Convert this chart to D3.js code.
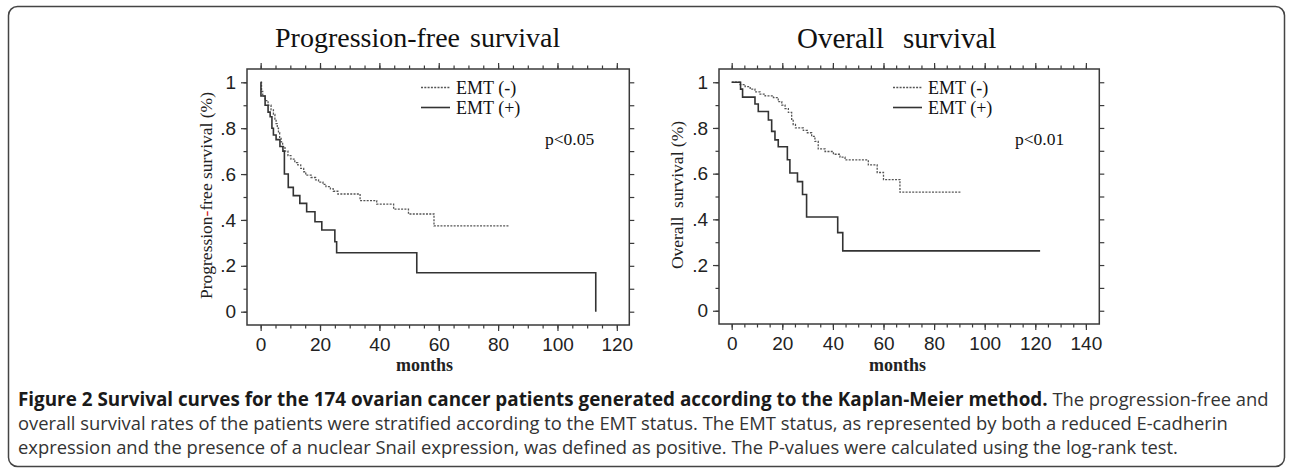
<!DOCTYPE html>
<html><head><meta charset="utf-8">
<script src="https://cdn.jsdelivr.net/npm/d3@7"></script>
<style>
html,body{margin:0;padding:0;background:#fff;}
svg{display:block;}
</style></head>
<body><svg id="c" width="1290" height="469"></svg>
<script>
// ---- data ----
const xTicksPFS = [0,20,40,60,80,100,120];
const xTicksOS = [0,20,40,60,80,100,120,140];
const yTicks = [0,0.2,0.4,0.6,0.8,1];
const yTickLabels = ["0",".2",".4",".6",".8","1"];
const seriesNames = ["EMT (-)","EMT (+)"];

const pfsNegTime = [0,0.3,0.7,1.5,2.5,3.5,4.3,4.8,5.2,5.6,6.0,6.4,6.9,7.4,8.2,9.2,10.2,11.5,12.5,13.5,14.5,15.2,17,18.5,19.5,21,22,23.5,24.5,26,33.5,39.1,44.8,49.8,58.4,83.5];
const pfsNegSurv = [1,0.96,0.94,0.92,0.90,0.88,0.86,0.84,0.82,0.80,0.78,0.76,0.74,0.72,0.70,0.68,0.665,0.65,0.64,0.625,0.61,0.595,0.585,0.575,0.565,0.555,0.545,0.535,0.525,0.513,0.484,0.469,0.447,0.426,0.374,0.374];
const pfsPosTime = [0,0.1,1.5,2.5,3.2,3.8,4.3,5.2,6.5,7.5,8.0,9.3,11,13.2,15.5,18.3,20.6,25,25.6,52.6,112.9];
const pfsPosSurv = [1,0.94,0.90,0.87,0.85,0.80,0.77,0.75,0.72,0.70,0.60,0.542,0.506,0.472,0.436,0.392,0.356,0.305,0.257,0.17,0.0];

const osNegTime = [0,3.3,5.3,7.3,9.2,11.2,13.2,16.5,18.4,19.8,21.1,22.4,23.7,24.3,25.2,28.3,29.9,31.6,32.9,34.2,36.9,40.2,42.8,44.8,54,57.5,60,66.5,90.5];
const osNegSurv = [1,0.99,0.981,0.97,0.958,0.948,0.94,0.933,0.915,0.9,0.885,0.868,0.838,0.815,0.80,0.789,0.779,0.763,0.741,0.708,0.697,0.685,0.672,0.66,0.638,0.605,0.574,0.519,0.519];
const osPosTime = [0,3.5,4.3,9.2,10.5,14.5,15.8,17.1,18.4,22.0,23,26,28,29.6,41.9,43.9,121.9];
const osPosSurv = [1,0.97,0.935,0.905,0.872,0.835,0.785,0.748,0.718,0.661,0.603,0.565,0.509,0.41,0.342,0.262,0.262];

const svg = d3.select("#c");
const INK = "#3a3a3a";
const SERIF = "'Liberation Serif','Times New Roman',serif";
const NARROW = "'Liberation Sans Narrow','Arial Narrow','Liberation Sans',sans-serif";

// outer border
svg.append("rect").attr("x",8.5).attr("y",6.5).attr("width",1276).attr("height",460)
  .attr("rx",9).attr("fill","none").attr("stroke","#444").attr("stroke-width",1.5);

function panel(cfg){
  const x = d3.scaleLinear().domain(cfg.xdom).range([cfg.left,cfg.right]);
  const y = d3.scaleLinear().domain([-0.058,1.058]).range([cfg.bottom,cfg.top]);
  const g = svg.append("g");
  g.append("rect").attr("x",cfg.left).attr("y",cfg.top)
    .attr("width",cfg.right-cfg.left).attr("height",cfg.bottom-cfg.top)
    .attr("fill","none").attr("stroke",INK).attr("stroke-width",1.5);
  const minorX = d3.range(0,cfg.xmax+0.1,5);
  const minorY = d3.range(0,11).map(d=>d/10);
  function styleAxis(sel){
    sel.select(".domain").remove();
    sel.selectAll("line").attr("stroke",INK).attr("stroke-width",1.2);
  }
  g.append("g").attr("transform",`translate(0,${cfg.bottom})`)
    .call(d3.axisBottom(x).tickValues(minorX).tickSize(3.5).tickFormat("")).call(styleAxis);
  const bx = g.append("g").attr("transform",`translate(0,${cfg.bottom})`)
    .call(d3.axisBottom(x).tickValues(cfg.xticks).tickSize(6).tickPadding(7).tickFormat(d3.format("d")));
  styleAxis(bx);
  bx.selectAll("text").attr("font-family",NARROW).attr("font-size",19).attr("fill","#222");
  g.append("g").attr("transform",`translate(0,${cfg.top})`)
    .call(d3.axisTop(x).tickValues(minorX).tickSize(3.5).tickFormat("")).call(styleAxis);
  g.append("g").attr("transform",`translate(0,${cfg.top})`)
    .call(d3.axisTop(x).tickValues(cfg.xticks).tickSize(6).tickFormat("")).call(styleAxis);
  g.append("g").attr("transform",`translate(${cfg.left},0)`)
    .call(d3.axisLeft(y).tickValues(minorY).tickSize(3.5).tickFormat("")).call(styleAxis);
  const ly = g.append("g").attr("transform",`translate(${cfg.left},0)`)
    .call(d3.axisLeft(y).tickValues(yTicks).tickSize(6).tickPadding(5)
      .tickFormat((d,i)=>yTickLabels[i]));
  styleAxis(ly);
  ly.selectAll("text").attr("font-family",NARROW).attr("font-size",19).attr("fill","#222");
  g.append("g").attr("transform",`translate(${cfg.right},0)`)
    .call(d3.axisRight(y).tickValues(minorY).tickSize(5).tickFormat("")).call(styleAxis);

  const line = d3.line().x(d=>x(d[0])).y(d=>y(d[1])).curve(d3.curveStepAfter);
  g.append("path").datum(d3.zip(cfg.negT,cfg.negS)).attr("d",line)
    .attr("fill","none").attr("stroke","#555").attr("stroke-width",1.3).attr("stroke-dasharray","2,1.3");
  g.append("path").datum(d3.zip(cfg.posT,cfg.posS)).attr("d",line)
    .attr("fill","none").attr("stroke","#333").attr("stroke-width",1.6);

  g.append("line").attr("x1",cfg.legX).attr("x2",cfg.legX+29).attr("y1",87.5).attr("y2",87.5)
    .attr("stroke","#555").attr("stroke-width",1.3).attr("stroke-dasharray","2,1.3");
  g.append("line").attr("x1",cfg.legX).attr("x2",cfg.legX+29).attr("y1",107.5).attr("y2",107.5)
    .attr("stroke","#333").attr("stroke-width",1.6);
  g.selectAll("text.leg").data(seriesNames).enter().append("text").attr("class","leg")
    .attr("x",cfg.legX+35).attr("y",(d,i)=>93.5+i*20).text(d=>d)
    .attr("font-family",SERIF).attr("font-size",18).attr("fill","#111");
  g.append("text").attr("x",cfg.pX).attr("y",145).text(cfg.p)
    .attr("font-family",SERIF).attr("font-size",17.5).attr("fill","#111");

  g.append("text").attr("x",cfg.titleX0).attr("y",cfg.titleY).text(cfg.title[0])
    .attr("font-family",SERIF).attr("font-size",cfg.titleSize).attr("fill","#111");
  g.append("text").attr("x",cfg.titleX1).attr("y",cfg.titleY).text(cfg.title[1])
    .attr("font-family",SERIF).attr("font-size",cfg.titleSize).attr("fill","#111");
  g.append("text").attr("x",cfg.monthsX).attr("y",370.5).attr("text-anchor","middle").text("months")
    .attr("font-family",SERIF).attr("font-size",18).attr("font-weight","bold").attr("fill","#222");
  const yl = g.append("text").attr("transform",`translate(${cfg.ylabX},${cfg.ylabY}) rotate(-90)`)
    .attr("text-anchor","middle").attr("font-family",SERIF).attr("font-size",17.5).attr("fill","#222")
    .style("white-space","pre");
  cfg.ylab.forEach(p=>yl.append("tspan").text(p[0]).attr("fill",p[1]||"#222"));
}

panel({left:247,right:629.3,top:69,bottom:325,xdom:[-4.6,124.2],xmax:120,xticks:xTicksPFS,
  negT:pfsNegTime,negS:pfsNegSurv,posT:pfsPosTime,posS:pfsPosSurv,
  legX:421,pX:545,p:"p<0.05",title:["Progression-free","survival"],titleX0:275,titleX1:470,titleY:47,titleSize:28,
  monthsX:424.5,ylabX:212,ylabY:195.5,
  ylab:[["Progression"],["-","#d42020"],["free survival (%)"]]});
panel({left:719,right:1099.3,top:69,bottom:324,xdom:[-5.02,145.3],xmax:140,xticks:xTicksOS,
  negT:osNegTime,negS:osNegSurv,posT:osPosTime,posS:osPosSurv,
  legX:893,pX:1015,p:"p<0.01",title:["Overall","survival"],titleX0:797,titleX1:903,titleY:48,titleSize:29,
  monthsX:897.5,ylabX:683,ylabY:195,
  ylab:[["Overall  survival (%)"]]});

// caption
const CAP = "'Open Sans','Noto Sans',sans-serif";
const capBold = "Figure 2 Survival curves for the 174 ovarian cancer patients generated according to the Kaplan-Meier method.";
const capLines = [
  " The progression-free and",
  "overall survival rates of the patients were stratified according to the EMT status. The EMT status, as represented by both a reduced E-cadherin",
  "expression and the presence of a nuclear Snail expression, was defined as positive. The P-values were calculated using the log-rank test."
];
const capX = 18, capRight = 1269, line2Right = 1228;
// regular size from line 2 width
const l2 = svg.append("text").attr("x",capX).attr("y",430).attr("font-family",CAP).attr("font-size",17)
  .attr("fill","#333").text(capLines[1]);
const FSr = 17 * (line2Right - capX) / l2.node().getComputedTextLength();
l2.attr("font-size",FSr);
svg.append("text").attr("x",capX).attr("y",454).attr("font-family",CAP).attr("font-size",FSr)
  .attr("fill","#333").text(capLines[2]);
// line 1: bold lead fills the remaining width
const t1 = svg.append("text").attr("x",capX).attr("y",406).attr("font-family",CAP).attr("fill","#333")
  .style("white-space","pre");
const tb = t1.append("tspan").attr("font-weight","bold").attr("fill","#1a1a1a").attr("font-size",17).text(capBold);
const tr = t1.append("tspan").attr("font-size",FSr).text(capLines[0]);
const bw = tb.node().getComputedTextLength();
const rw = tr.node().getComputedTextLength();
tb.attr("font-size", 17 * (capRight - capX - rw) / bw);
</script></body></html>
